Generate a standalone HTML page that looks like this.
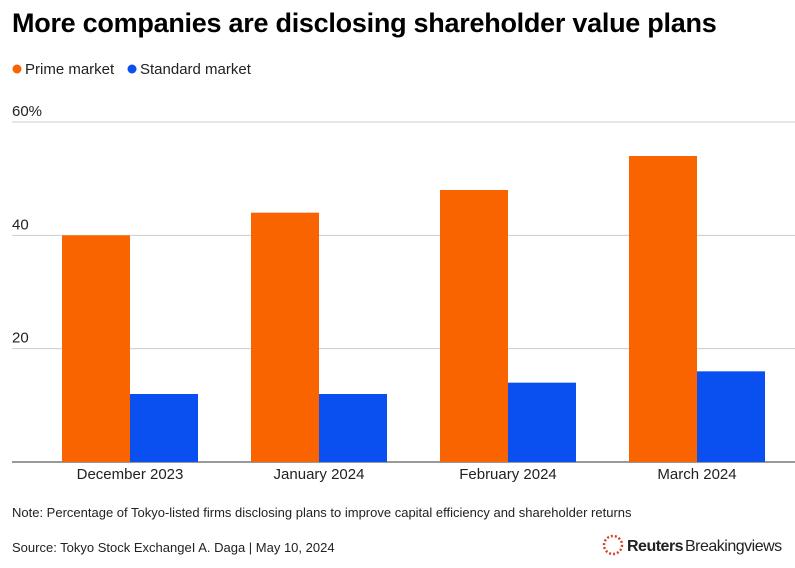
<!DOCTYPE html>
<html><head><meta charset="utf-8"><style>
body{margin:0;width:795px;height:563px;background:#fff;font-family:"Liberation Sans",sans-serif;overflow:hidden}
svg text{font-family:"Liberation Sans",sans-serif}
</style></head><body>
<svg width="795" height="563">
<text x="12" y="32" font-size="27" font-weight="bold" fill="#000" letter-spacing="-0.27">More companies are disclosing shareholder value plans</text>
<g>
<circle cx="17" cy="69" r="4.5" fill="#f96300"/>
<text x="25" y="74" font-size="15" fill="#222">Prime market</text>
<circle cx="132" cy="69" r="4.5" fill="#0a4ff0"/>
<text x="140" y="74" font-size="15" fill="#222">Standard market</text>
</g>
<g id="grid"></g>
<g id="bars"></g>
<g id="xlabels"></g>
<text x="12" y="517" font-size="13" fill="#222">Note: Percentage of Tokyo-listed firms disclosing plans to improve capital efficiency and shareholder returns</text>
<text x="12" y="552" font-size="13" fill="#222">Source: Tokyo Stock ExchangeI A. Daga | May 10, 2024</text>
<g>
<circle cx="613" cy="545" r="9" fill="none" stroke="#d8442a" stroke-width="2.5" stroke-dasharray="2 2"/>
<text x="627" y="551" font-size="16" font-weight="bold" fill="#222" letter-spacing="-0.5">Reuters</text>
<text x="685" y="551" font-size="16" fill="#222" letter-spacing="-0.5">Breakingviews</text>
</g>
</svg>
<script>
const categories=["December 2023","January 2024","February 2024","March 2024"];
const primeValues=[40,44,48,54];
const standardValues=[12,12,14,16];
const tickValues=[0,20,40,60];
const tickLabels=["","20","40","60%"];
const NS="http://www.w3.org/2000/svg";
const y0=462,pxPer=(462-122)/60;
function y(v){return y0-v*pxPer;}
function gx(i){return 62+i*189;}
function mk(t,a,p){const e=document.createElementNS(NS,t);for(const k in a)e.setAttribute(k,a[k]);p.appendChild(e);return e;}
const grid=document.getElementById('grid'),bars=document.getElementById('bars'),xl=document.getElementById('xlabels');
tickValues.forEach((v,i)=>{
 const l=mk('line',{x1:12,x2:795,y1:y(v),y2:y(v),stroke:v===0?'#333':'#ccc','stroke-width':1},grid);
 
 
 if(tickLabels[i]){const t=mk('text',{x:12,y:y(v)-6,'font-size':15,fill:'#222'},grid);t.textContent=tickLabels[i];
 
 }
});
categories.forEach((c,i)=>{
 const p=mk('rect',{x:gx(i),y:y(primeValues[i]),width:68,height:y0-y(primeValues[i]),fill:'#f96300'},bars);
 
 
 const s=mk('rect',{x:gx(i)+68,y:y(standardValues[i]),width:68,height:y0-y(standardValues[i]),fill:'#0a4ff0'},bars);
 
 
 const t=mk('text',{x:gx(i)+68,y:479,'font-size':15,fill:'#222','text-anchor':'middle'},xl);t.textContent=c;
 
 
});
</script>
</body></html>
